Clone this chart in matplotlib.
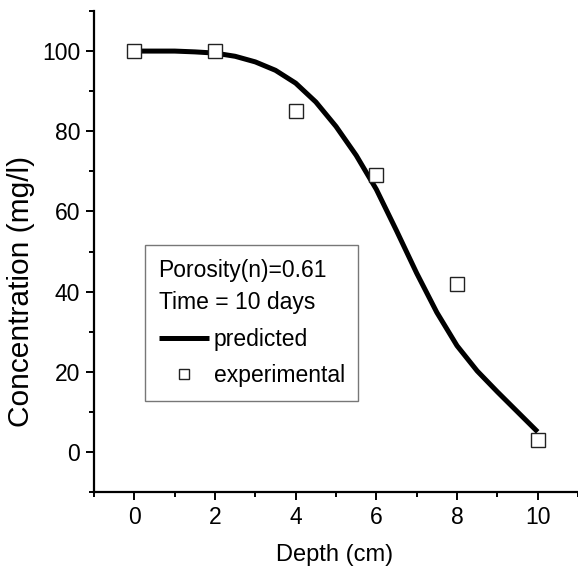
import numpy as np
import matplotlib.pyplot as plt
from matplotlib.ticker import MultipleLocator

plt.rcParams['font.family'] = ['Liberation Sans', 'DejaVu Sans']

# measured concentrations
depth_exp = [0, 2, 4, 6, 8, 10]
conc_exp = [100, 100, 85, 69, 42, 3]

# model prediction
depth_pred = [0, 0.5, 1, 1.5, 2, 2.5, 3, 3.5, 4, 4.5, 5, 5.5, 6, 6.5, 7, 7.5, 8, 8.5, 9, 9.5, 10]
conc_pred = [100, 100, 100, 99.8, 99.5, 98.7, 97.3, 95.2, 92, 87.3, 81.2, 74, 65.5, 55.2,
             44.6, 34.8, 26.5, 20.2, 15, 10, 5]

fig = plt.figure(figsize=(5.78, 5.81), dpi=100)
ax = fig.add_axes([94/578, 1 - 492/581, 484/578, 481/581])

ax.plot(depth_pred, conc_pred, color='black', lw=3.6, label='predicted', zorder=2,
        solid_joinstyle='round', solid_capstyle='butt')
ax.plot(depth_exp, conc_exp, ls='none', marker='s', ms=9.5, mfc='white', mec='#222222',
        mew=1.0, label='experimental', zorder=3)

ax.set_xlim(-1, 11)
ax.set_ylim(-10, 110)
ax.xaxis.set_minor_locator(MultipleLocator(1))
ax.yaxis.set_minor_locator(MultipleLocator(10))
ax.set_xticks([0, 2, 4, 6, 8, 10])
ax.set_yticks([0, 20, 40, 60, 80, 100])

for s in ['top', 'right']:
    ax.spines[s].set_visible(False)
for s in ['left', 'bottom']:
    ax.spines[s].set_linewidth(1.6)

ax.tick_params(which='major', direction='out', length=6, width=1.4, labelsize=16.5, pad=4)
ax.tick_params(which='minor', direction='out', length=3.5, width=1.4)

ax.set_xlabel('Depth (cm)', fontsize=17)
ax.set_ylabel('Concentration (mg/l)', fontsize=21.5)
ax.xaxis.label.set_va('center')
ax.yaxis.label.set_va('center')
ax.xaxis.set_label_coords(0.498, -0.131)
ax.yaxis.set_label_coords(-0.150, 0.416)

leg = ax.legend(title='Porosity(n)=0.61\nTime = 10 days', alignment='left',
                loc='lower left', bbox_to_anchor=(0.105, 0.189), borderaxespad=0,
                fontsize=16.5, title_fontsize=16.5, fancybox=False, handlelength=2.2,
                handletextpad=0.2, labelspacing=0.6, markerscale=0.7,
                borderpad=0.6)
leg.get_title().set_linespacing(1.5)
leg.get_frame().set_edgecolor('#555555')
leg.get_frame().set_linewidth(1.0)

fig.savefig('out.png', dpi=100)
